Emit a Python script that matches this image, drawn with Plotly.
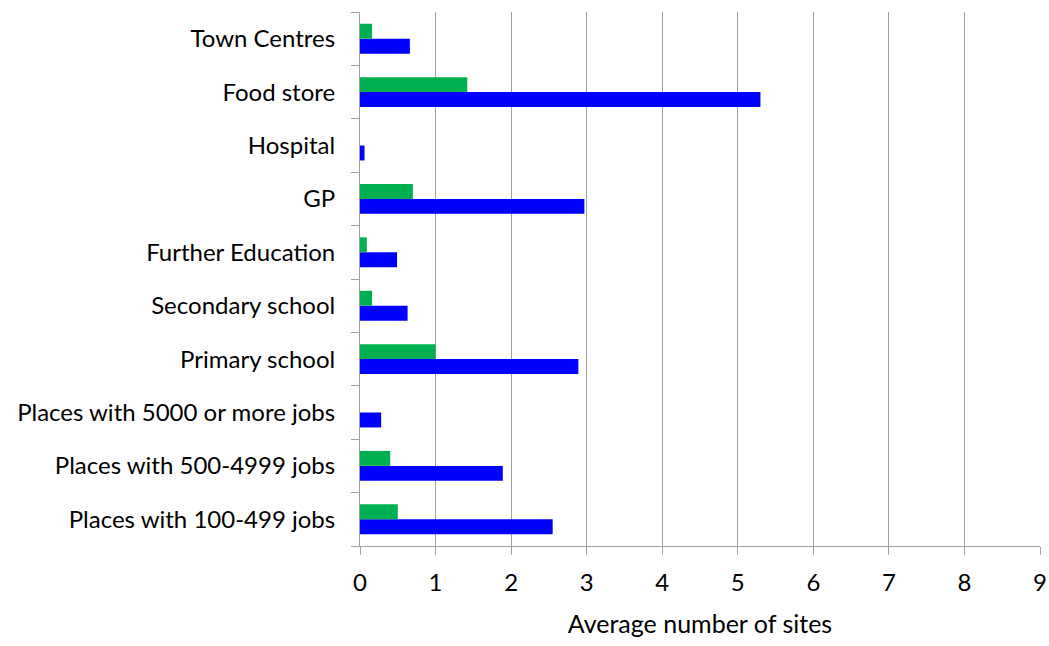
import plotly.graph_objects as go

# Categories listed bottom to top
categories = [
    "Places with 100-499 jobs",
    "Places with 500-4999 jobs",
    "Places with 5000 or more jobs",
    "Primary school",
    "Secondary school",
    "Further Education",
    "GP",
    "Hospital",
    "Food store",
    "Town Centres",
]
blue_values = [2.55, 1.89, 0.28, 2.89, 0.63, 0.49, 2.97, 0.06, 5.30, 0.66]
green_values = [0.50, 0.40, 0.0, 1.00, 0.16, 0.09, 0.70, 0.0, 1.42, 0.16]
x_ticks = list(range(0, 10))

FONT = "Lato, Open Sans, sans-serif"

fig = go.Figure()

# Blue first so it sits at the bottom of each group
fig.add_trace(
    go.Bar(
        y=categories,
        x=blue_values,
        orientation="h",
        marker=dict(color="#0000FF", line=dict(width=0)),
        name="Series 1",
    )
)
fig.add_trace(
    go.Bar(
        y=categories,
        x=green_values,
        orientation="h",
        marker=dict(color="#00B050", line=dict(width=0)),
        name="Series 2",
    )
)

fig.update_layout(
    width=1049,
    height=646,
    margin=dict(l=360, r=9, t=12, b=100, autoexpand=False),
    barmode="group",
    bargap=0.44,
    bargroupgap=0,
    showlegend=False,
    plot_bgcolor="white",
    paper_bgcolor="white",
    font=dict(family=FONT, size=24, color="#000000"),
    xaxis=dict(
        range=[0, 9],
        tickvals=x_ticks,
        ticks="outside",
        ticklen=8,
        tickcolor="#A0A0A0",
        showgrid=True,
        gridcolor="#A0A0A0",
        gridwidth=1,
        showline=True,
        linecolor="#A0A0A0",
        zeroline=False,
        automargin=False,
        title=dict(
            text="Average number of sites",
            standoff=20,
            font=dict(family=FONT, size=25, color="#000000"),
        ),
        ticklabelstandoff=7,
    ),
    yaxis=dict(
        type="category",
        categoryorder="array",
        categoryarray=categories,
        tickson="boundaries",
        ticks="outside",
        ticklen=8,
        tickcolor="#A0A0A0",
        showgrid=False,
        showline=True,
        linecolor="#A0A0A0",
        automargin=False,
        ticklabelstandoff=19,
    ),
)

# drop the default body margin so the figure fills the window exactly
fig.write_html(
    "out.html",
    config={"displayModeBar": False, "responsive": False},
    post_script="document.body.style.margin='0';document.body.style.overflow='hidden';",
)
